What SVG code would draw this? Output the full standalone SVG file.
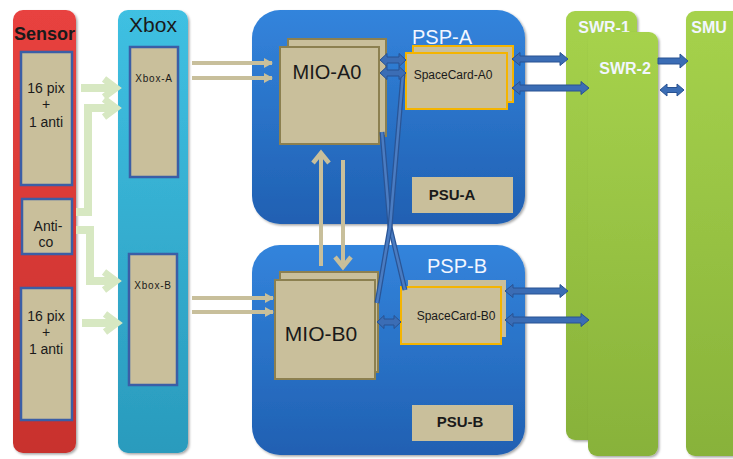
<svg xmlns="http://www.w3.org/2000/svg" width="733" height="459" viewBox="0 0 733 459">
<defs>
<linearGradient id="gRed" x1="0" y1="0" x2="0" y2="1"><stop offset="0" stop-color="#e8423f"/><stop offset="1" stop-color="#c8302e"/></linearGradient>
<linearGradient id="gCyan" x1="0" y1="0" x2="0" y2="1"><stop offset="0" stop-color="#3fc0e2"/><stop offset="1" stop-color="#2a9bbd"/></linearGradient>
<linearGradient id="gBlue" x1="0" y1="0" x2="0" y2="1"><stop offset="0" stop-color="#3384dc"/><stop offset="1" stop-color="#2060b2"/></linearGradient>
<linearGradient id="gGreen" x1="0" y1="0" x2="0" y2="1"><stop offset="0" stop-color="#a6d24c"/><stop offset="1" stop-color="#88b23a"/></linearGradient>
<filter id="sh" x="-10%" y="-5%" width="125%" height="115%"><feDropShadow dx="1.5" dy="1.5" stdDeviation="1.2" flood-color="#000" flood-opacity="0.35"/></filter>
<marker id="tanHead" markerUnits="userSpaceOnUse" markerWidth="10" markerHeight="10" refX="8" refY="5" orient="auto"><path d="M0,0 L9,5 L0,10 Z" fill="#c8bf9b"/></marker>
<marker id="grnHead" markerUnits="userSpaceOnUse" markerWidth="24" markerHeight="24" refX="16" refY="12" orient="auto"><path d="M4,3 L16,12 L4,21" fill="none" stroke="#d7e8c2" stroke-width="7"/></marker>
</defs>
<style>
.tan{fill:#c9bf9b;}
.inbox{fill:#c9bf9b;stroke:#3b5ea6;stroke-width:2.5;}
.mio{fill:#c9bf9b;stroke:#8c8050;stroke-width:2;}
.sc{fill:#c9bf9b;stroke:#f4b400;stroke-width:2;}
.lbl{font-family:"Liberation Sans",Arial,sans-serif;fill:#1a1a1a;text-anchor:middle;}
.wlbl{font-family:"Liberation Sans",Arial,sans-serif;fill:#f2f6ff;text-anchor:middle;}
.barr{fill:#3b6db5;stroke:#285292;stroke-width:1;}
.grn{fill:none;stroke:#d7e8c2;stroke-width:8;stroke-linejoin:miter;}
.tanl{fill:none;stroke:#c8bf9b;stroke-width:4;}
.cross{fill:none;stroke:#2a5596;stroke-width:5;stroke-linejoin:round;}
.crossi{fill:none;stroke:#4a7cc2;stroke-width:2.5;stroke-linejoin:round;}
</style>

<g id="sensor">
<rect x="13" y="10" width="63" height="443" rx="10" fill="url(#gRed)" filter="url(#sh)"/>
<text class="lbl" x="44.5" y="40" font-size="18" font-weight="bold" fill="#3a0e0e">Sensor</text>
</g>
<g id="sensor-pix1">
<rect class="inbox" x="21" y="52" width="51" height="133"/>
<text class="lbl" x="46" y="93" font-size="14">16 pix</text>
<text class="lbl" x="46" y="109" font-size="14">+</text>
<text class="lbl" x="46" y="127" font-size="14">1 anti</text>
</g>
<g id="sensor-antico">
<rect class="inbox" x="22" y="199" width="50" height="55"/>
<text class="lbl" x="48" y="231" font-size="14">Anti-</text>
<text class="lbl" x="46" y="247" font-size="14">co</text>
</g>
<g id="sensor-pix2">
<rect class="inbox" x="21" y="288" width="51" height="132"/>
<text class="lbl" x="46" y="321" font-size="14">16 pix</text>
<text class="lbl" x="46" y="337" font-size="14">+</text>
<text class="lbl" x="46" y="354" font-size="14">1 anti</text>
</g>

<g id="xbox">
<rect x="118" y="10" width="70" height="443" rx="10" fill="url(#gCyan)" filter="url(#sh)"/>
<text class="lbl" x="153" y="32" font-size="21" fill="#13232e">Xbox</text>
</g>
<g id="xbox-a">
<rect class="inbox" x="130" y="47" width="48" height="130"/>
<text class="lbl" x="154" y="82" font-size="10" letter-spacing="0.8">Xbox-A</text>
</g>
<g id="xbox-b">
<rect class="inbox" x="129" y="254" width="48" height="131"/>
<text class="lbl" x="153" y="289" font-size="10" letter-spacing="0.8">Xbox-B</text>
</g>

<g id="psp-a">
<rect x="252" y="10" width="273" height="214" rx="28" fill="url(#gBlue)" filter="url(#sh)"/>
<text class="wlbl" x="442" y="44" font-size="20">PSP-A</text>
</g>
<g id="mio-a0">
<rect class="mio" x="288" y="39" width="98" height="97"/>
<rect class="mio" x="280" y="47" width="99" height="97"/>
<text class="lbl" x="327" y="79" font-size="20">MIO-A0</text>
</g>
<g id="spacecard-a0">
<rect class="sc" x="413" y="46" width="100" height="56"/>
<rect class="sc" x="406" y="53" width="101" height="56"/>
<text class="lbl" x="453" y="79" font-size="12" fill="#333">SpaceCard-A0</text>
</g>
<g id="psu-a">
<rect class="tan" x="412" y="177" width="101" height="36"/>
<text class="lbl" x="452" y="200" font-size="15" font-weight="bold">PSU-A</text>
</g>

<g id="psp-b">
<rect x="252" y="245" width="273" height="210" rx="28" fill="url(#gBlue)" filter="url(#sh)"/>
<text class="wlbl" x="457" y="273" font-size="20">PSP-B</text>
</g>
<g id="mio-b0">
<rect class="mio" x="280" y="272" width="98" height="100"/>
<rect class="mio" x="275" y="280" width="100" height="99"/>
<text class="lbl" x="321" y="341" font-size="21">MIO-B0</text>
</g>
<g id="spacecard-b0">
<rect class="tan" x="408" y="280" width="98" height="57"/>
<rect class="sc" x="401" y="287" width="100" height="57"/>
<text class="lbl" x="456" y="320" font-size="12" fill="#333">SpaceCard-B0</text>
</g>
<g id="psu-b">
<rect class="tan" x="412" y="405" width="101" height="36"/>
<text class="lbl" x="460" y="427" font-size="15" font-weight="bold">PSU-B</text>
</g>

<g id="swr-1">
<rect x="566" y="11" width="71" height="429" rx="9" fill="url(#gGreen)" filter="url(#sh)"/>
<text class="wlbl" x="604" y="33" font-size="16" font-weight="bold">SWR-1</text>
</g>
<g id="swr-2">
<rect x="588" y="32" width="70" height="424" rx="9" fill="url(#gGreen)" filter="url(#sh)"/>
<text class="wlbl" x="625" y="74" font-size="16" font-weight="bold">SWR-2</text>
</g>
<g id="smu">
<rect x="686" y="11" width="60" height="445" rx="9" fill="url(#gGreen)" filter="url(#sh)"/>
<text class="wlbl" x="709" y="33" font-size="16" font-weight="bold">SMU</text>
</g>

<g id="connectors">
<path class="grn" d="M81,88 L116,88" marker-end="url(#grnHead)"/>
<path class="grn" d="M76,212 L88,212 L88,108 L116,108" marker-end="url(#grnHead)"/>
<path class="grn" d="M76,230 L90,230 L90,281 L116,281" marker-end="url(#grnHead)"/>
<path class="grn" d="M82,323 L117,323" marker-end="url(#grnHead)"/>
<path class="tanl" d="M192,63 L272,63" marker-end="url(#tanHead)"/>
<path class="tanl" d="M192,78 L272,78" marker-end="url(#tanHead)"/>
<path class="tanl" d="M192,298 L273,298" marker-end="url(#tanHead)"/>
<path class="tanl" d="M192,312 L273,312" marker-end="url(#tanHead)"/>
<path class="tanl" d="M321,266 L321,156"/>
<path d="M313,163 L321,153 L329,163" fill="none" stroke="#c8bf9b" stroke-width="4.5"/>
<path class="tanl" d="M343,160 L343,263"/>
<path d="M335,257 L343,267 L351,257" fill="none" stroke="#c8bf9b" stroke-width="4.5"/>
<path class="cross" d="M382,132 L390,227 L405,290"/>
<path class="crossi" d="M382,132 L390,227 L405,290"/>
<path class="cross" d="M403,74 L390,227 L377,303"/>
<path class="crossi" d="M403,74 L390,227 L377,303"/>
<polygon class="barr" points="380,60 387,53.5 387,57 399,57 399,53.5 406,60 399,66.5 399,63 387,63 387,66.5"/>
<polygon class="barr" points="380,73 387,66.5 387,70 399,70 399,66.5 406,73 399,79.5 399,76 387,76 387,79.5"/>
<polygon class="barr" points="377,322 384,315.5 384,319 394,319 394,315.5 401,322 394,328.5 394,325 384,325 384,328.5"/>
<polygon class="barr" points="512,59 520,52.5 520,56 560,56 560,52.5 568,59 560,65.5 560,62 520,62 520,65.5"/>
<polygon class="barr" points="512,88 520,81.5 520,85 581,85 581,81.5 589,88 581,94.5 581,91 520,91 520,94.5"/>
<polygon class="barr" points="505,291 513,284.5 513,288 560,288 560,284.5 568,291 560,297.5 560,294 513,294 513,297.5"/>
<polygon class="barr" points="505,320 513,313.5 513,317 581,317 581,313.5 589,320 581,326.5 581,323 513,323 513,326.5"/>
<polygon class="barr" points="658,58 680,58 680,54 688,61 680,68 680,64 658,64"/>
<polygon class="barr" points="660,90 667,84 667,87.5 677,87.5 677,84 684,90 677,96 677,92.5 667,92.5 667,96"/>
</g>
</svg>
